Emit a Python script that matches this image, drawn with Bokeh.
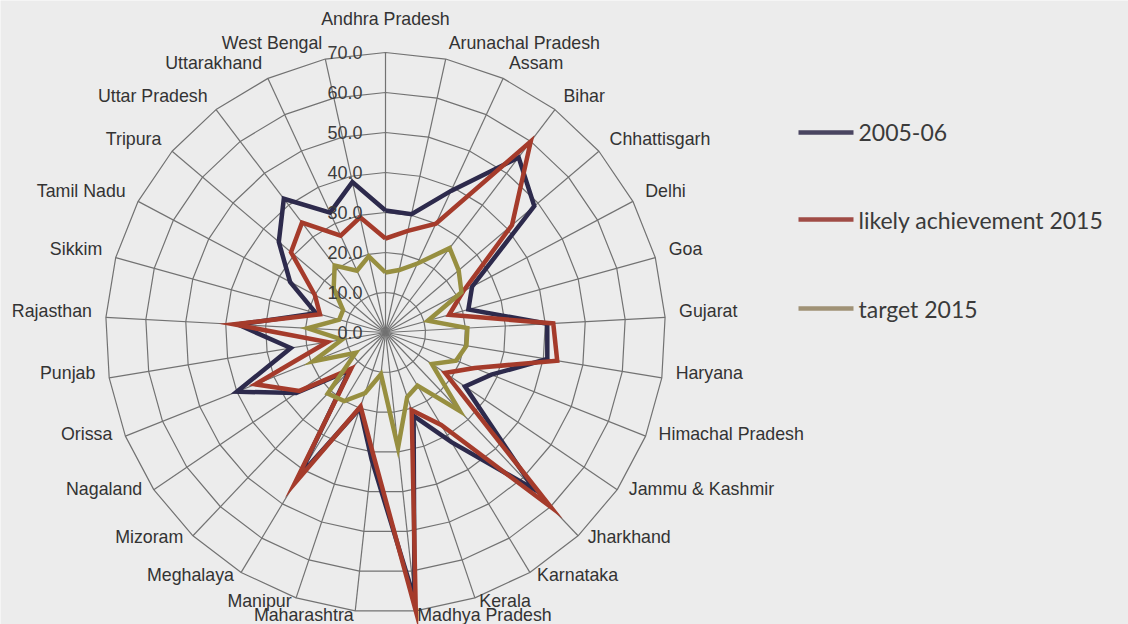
import numpy as np
from bokeh.plotting import figure
from bokeh.models import Range1d, ColumnDataSource
from bokeh.core.properties import value
from bokeh.embed import file_html
from bokeh.resources import INLINE

states = ["Andhra Pradesh", "Arunachal Pradesh", "Assam", "Bihar", "Chhattisgarh",
          "Delhi", "Goa", "Gujarat", "Haryana", "Himachal Pradesh",
          "Jammu & Kashmir", "Jharkhand", "Karnataka", "Kerala", "Madhya Pradesh",
          "Maharashtra", "Manipur", "Meghalaya", "Mizoram", "Nagaland",
          "Orissa", "Punjab", "Rajasthan", "Sikkim", "Tamil Nadu",
          "Tripura", "Uttar Pradesh", "Uttarakhand", "West Bengal"]

v2005 = [30.5, 30.3, 39.0, 55.0, 48.8, 24.5, 21.5, 40.5, 41.0, 28.5,
         24.0, 54.0, 32.0, 22.0, 67.0, 32.0, 20.0, 42.0, 13.0, 27.0,
         40.0, 24.0, 37.0, 18.0, 27.0, 35.0, 42.0, 33.0, 38.5]

likely2015 = [23.5, 26.0, 30.0, 60.0, 41.5, 22.0, 16.5, 42.0, 43.5, 24.0,
              18.0, 60.0, 27.0, 20.5, 70.0, 30.0, 19.5, 44.0, 12.5, 26.0,
              35.0, 14.7, 38.0, 17.0, 20.0, 31.0, 34.5, 26.7, 29.5]

target2015 = [15.0, 16.0, 19.0, 26.5, 24.0, 21.5, 11.0, 20.5, 20.5, 19.0,
              14.0, 27.0, 15.5, 17.0, 29.0, 10.5, 16.0, 20.0, 21.0, 9.0,
              19.5, 11.0, 19.5, 12.0, 12.0, 17.0, 21.0, 17.0, 19.5]

ticks = [0, 10, 20, 30, 40, 50, 60, 70]
tick_labels = ["0.0", "10.0", "20.0", "30.0", "40.0", "50.0", "60.0", "70.0"]

series_names = ["2005-06", "likely achievement 2015", "target 2015"]
series_values = [v2005, likely2015, target2015]
series_colors = ["#2d2a4c", "#a53b2b", "#978f40"]
legend_colors = ["#4a4561", "#a04c46", "#a09276"]

# geometry (screen pixels)
W, H = 1128, 624
CX, CY = 385, 332
PX_PER_UNIT = 4.0
RMAX = max(ticks)

n = len(states)
theta = np.arange(n) * 2 * np.pi / n
s, c = np.sin(theta), np.cos(theta)

p = figure(width=W, height=H, x_range=Range1d(-CX, W - CX), y_range=Range1d(-(H - CY), CY),
           output_backend="svg", toolbar_location=None, x_axis_type=None, y_axis_type=None,
           min_border=0)
p.grid.visible = False
p.outline_line_color = None
p.background_fill_color = "#ececec"
p.border_fill_color = "#ececec"

# grid rings (polygons)
ring_xs, ring_ys = [], []
for t in ticks[1:]:
    r = t * PX_PER_UNIT
    ring_xs.append(list(np.append(r * s, r * s[0])))
    ring_ys.append(list(np.append(r * c, r * c[0])))
p.multi_line(ring_xs, ring_ys, line_color="#727272", line_width=1.2)

# spokes
R = RMAX * PX_PER_UNIT
p.segment(x0=np.zeros(n), y0=np.zeros(n), x1=R * s, y1=R * c, line_color="#727272", line_width=1.2)

# series
for vals, col in zip(series_values, series_colors):
    r = np.array(vals) * PX_PER_UNIT
    xs = np.append(r * s, r[0] * s[0])
    ys = np.append(r * c, r[0] * c[0])
    p.line(xs, ys, line_color=col, line_width=4.5, line_join="miter")

# radial tick labels
p.text(x=[-23] * len(ticks), y=[t * PX_PER_UNIT for t in ticks], text=tick_labels,
       text_align="right", text_baseline="middle", text_font=value("Liberation Sans"),
       text_font_size="18px", text_color="#3c3c3c")

# category labels
lx, ly, la = [], [], []
for i in range(n):
    ex, ey = R * s[i], R * c[i]
    x = ex + 14 * s[i]
    y = ey + 6 + 10 * c[i]
    if s[i] > 0.01:
        a = "left"
    elif s[i] < -0.01:
        a = "right"
    else:
        a = "center"
        y += 18
    lx.append(x); ly.append(y); la.append(a)
src = ColumnDataSource(dict(x=lx, y=ly, t=states, a=la))
p.text(x="x", y="y", text="t", text_align="a", text_baseline="middle", source=src,
       text_font=value("Liberation Sans"), text_font_size="17.8px", text_color="#333333")

# legend (manual)
leg_y = [200, 113, 24]
for yy, col, name in zip(leg_y, legend_colors, series_names):
    p.segment(x0=[413], y0=[yy], x1=[468], y1=[yy], line_color=col, line_width=4.5)
p.text(x=[473] * 3, y=leg_y, text=series_names, text_baseline="middle",
       text_font=value("Lato"), text_font_size="23px", text_color="#3a3a3a")

open("out.html", "w").write(file_html(p, INLINE))
